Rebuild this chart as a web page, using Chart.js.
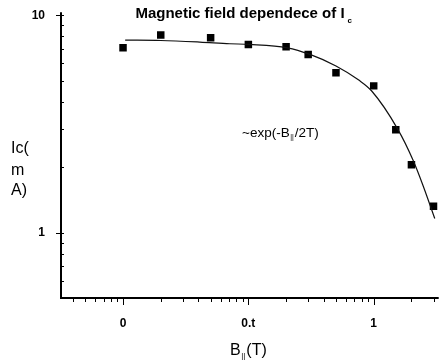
<!DOCTYPE html>
<html>
<head>
<meta charset="utf-8">
<script src="https://cdn.jsdelivr.net/npm/chart.js@4/dist/chart.umd.min.js"></script>
<style>
  html, body { margin: 0; padding: 0; background: #fff; }
  #wrap { width: 444px; height: 361px; position: relative; }
</style>
</head>
<body>
<div id="wrap"><canvas id="c"></canvas></div>
<script>
// Measured critical current vs parallel field
const fieldB = [0.01, 0.02, 0.05, 0.1, 0.2, 0.3, 0.5, 1, 1.5, 2, 3];
const currentIc = [7.08, 8.1, 7.87, 7.34, 7.16, 6.6, 5.44, 4.73, 2.97, 2.05, 1.32];

// Fitted curve, sampled along its trace
const fitB = [0.0104, 0.02, 0.041, 0.071, 0.102, 0.204, 0.31, 0.5, 0.76, 0.964, 1.55, 2.07, 2.49, 3.07];
const fitIc = [7.68, 7.65, 7.52, 7.39, 7.34, 7.08, 6.6, 5.84, 5.03, 4.48, 3.0, 2.14, 1.63, 1.16];

// Labelled axis ticks
const xTickValues = [0.01, 0.1, 1];
const xTickLabels = ['0', '0.t', '1'];
const yTickValues = [1, 10];
const yTickLabels = ['1', '10'];

const FONT = "'Liberation Sans', Arial, sans-serif";
const NARROW = "'Liberation Sans Narrow', 'Liberation Sans', Arial, sans-serif";

function minorValues(lo, hi) {
  const out = [];
  for (let e = Math.floor(Math.log10(lo)); e <= Math.ceil(Math.log10(hi)); e++) {
    for (let m = 1; m <= 9; m++) {
      const v = m * Math.pow(10, e);
      if (v >= lo && v <= hi) out.push({ v, major: m === 1 });
    }
  }
  return out;
}

const decor = {
  id: 'decor',
  afterDraw(chart) {
    const { ctx, chartArea: a, scales: { x, y } } = chart;
    ctx.save();
    ctx.strokeStyle = '#000';
    ctx.fillStyle = '#000';

    // axis lines
    ctx.lineWidth = 2;
    ctx.beginPath();
    ctx.moveTo(a.left, a.top - 3);
    ctx.lineTo(a.left, a.bottom);
    ctx.lineTo(a.right, a.bottom);
    ctx.stroke();

    // y ticks: minors point inward, decades stick out left
    ctx.lineWidth = 1;
    minorValues(y.min, y.max).forEach(t => {
      const py = Math.round(y.getPixelForValue(t.v)) + 0.5;
      ctx.beginPath();
      if (t.major) { ctx.moveTo(a.left - 5, py); ctx.lineTo(a.left + 3, py); }
      else { ctx.moveTo(a.left, py); ctx.lineTo(a.left + 3, py); }
      ctx.stroke();
    });

    // x ticks point down, decades longer
    minorValues(x.min, x.max).forEach(t => {
      const px = Math.round(x.getPixelForValue(t.v)) + 0.5;
      ctx.beginPath();
      ctx.moveTo(px, a.bottom);
      ctx.lineTo(px, a.bottom + (t.major ? 7 : 4));
      ctx.stroke();
    });

    // title
    ctx.textBaseline = 'alphabetic';
    ctx.textAlign = 'left';
    ctx.font = 'bold 15px ' + FONT;
    const title = 'Magnetic field dependece of I';
    const tw = ctx.measureText(title).width;
    const tx = 240 - tw / 2;
    ctx.fillText(title, tx, 18);
    ctx.font = 'bold 8px ' + FONT;
    ctx.fillText('c', tx + tw + 3, 23);

    // fit annotation
    ctx.font = '13.5px ' + NARROW;
    let ax = 242;
    const ay = 137;
    ctx.fillText('~exp(-B', ax, ay);
    ax += ctx.measureText('~exp(-B').width;
    ctx.font = '7px ' + NARROW;
    ctx.fillText('||', ax + 0.5, ay + 2);
    ax += ctx.measureText('||').width + 1.5;
    ctx.font = '13.5px ' + NARROW;
    ctx.fillText('/2T)', ax, ay);

    // x title
    ctx.font = '16px ' + NARROW;
    let bx = 230;
    const by = 355;
    ctx.fillText('B', bx, by);
    bx += ctx.measureText('B').width;
    ctx.font = '8px ' + NARROW;
    ctx.fillText('||', bx + 0.5, by + 3);
    bx += ctx.measureText('||').width + 1.5;
    ctx.font = '16px ' + NARROW;
    ctx.fillText('(T)', bx, by);

    // y title, stacked
    ctx.font = '16px ' + NARROW;
    ctx.fillText('Ic(', 11, 153);
    ctx.fillText('m', 11, 175);
    ctx.fillText('A)', 11, 195);

    ctx.restore();
  }
};

new Chart(document.getElementById('c'), {
  type: 'scatter',
  data: {
    datasets: [
      {
        label: 'fit',
        data: fitB.map((b, i) => ({ x: b, y: fitIc[i] })),
        showLine: true,
        borderColor: '#111',
        borderWidth: 1.2,
        pointRadius: 0,
        tension: 0.4,
        cubicInterpolationMode: 'monotone'
      },
      {
        label: 'Ic',
        data: fieldB.map((b, i) => ({ x: b, y: currentIc[i] })),
        pointStyle: 'rect',
        pointRadius: 5.3,
        backgroundColor: '#000',
        borderColor: '#000',
        borderWidth: 0
      }
    ]
  },
  options: {
    responsive: true,
    maintainAspectRatio: false,
    animation: false,
    devicePixelRatio: 1,
    layout: { padding: { top: 14, right: 4, left: 0, bottom: 0 } },
    plugins: { legend: { display: false }, tooltip: { enabled: false }, title: { display: false } },
    scales: {
      x: {
        type: 'logarithmic',
        min: 0.0032,
        max: 3.3,
        grid: { display: false },
        border: { display: false },
        afterBuildTicks: s => { s.ticks = xTickValues.map(v => ({ value: v })); },
        afterFit: s => { s.height = 63; },
        ticks: {
          autoSkip: false,
          maxRotation: 0,
          padding: 10,
          color: '#000',
          font: { family: FONT, size: 12, weight: 'bold' },
          callback: (v, i) => xTickLabels[i]
        }
      },
      y: {
        type: 'logarithmic',
        min: 0.5,
        max: 10,
        grid: { display: false },
        border: { display: false },
        afterBuildTicks: s => { s.ticks = yTickValues.map(v => ({ value: v })); },
        afterFit: s => { s.width = 61; },
        ticks: {
          autoSkip: false,
          padding: 8,
          color: '#000',
          font: { family: FONT, size: 12, weight: 'bold' },
          callback: (v, i) => yTickLabels[i]
        }
      }
    }
  },
  plugins: [decor]
});
</script>
</body>
</html>
